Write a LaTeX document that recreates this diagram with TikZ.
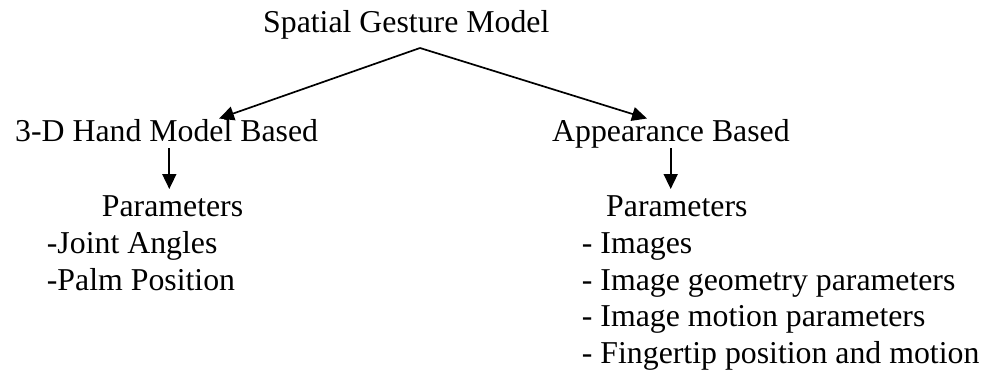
\documentclass[tikz,border=0pt]{standalone}
\usepackage{fontspec}
\setmainfont{Liberation Serif}
\usetikzlibrary{arrows.meta}
\begin{document}
\begin{tikzpicture}[x=1pt,y=-1pt,
  lbl/.style={anchor=base west,inner sep=0pt,font=\fontsize{31.8}{38}\selectfont},
  arr/.style={line width=1.7pt,-{Triangle[length=15pt,width=14pt]}}]
\useasboundingbox (0,0) rectangle (988,372);
% top level
\node[lbl] (sgm) at (263,32) {Spatial Gesture Model};
% two model families
\node[lbl] (hand) at (15,141.7) {3-D Hand Model Based};
\node[lbl] (app) at (552,141.7) {Appearance Based};
% parameters of the 3-D hand model
\node[lbl] (hpar) at (101.7,216) {Parameters};
\node[lbl] (h1) at (46.7,253.5) {-Joint Angles};
\node[lbl] (h2) at (46.7,290) {-Palm Position};
% parameters of the appearance model
\node[lbl] (apar) at (606,216) {Parameters};
\node[lbl] (a1) at (581.7,253.3) {- Images};
\node[lbl] (a2) at (581.7,290) {- Image geometry parameters};
\node[lbl] (a3) at (581.7,326.7) {- Image motion parameters};
\node[lbl] (a4) at (581.7,363.3) {- Fingertip position and motion};
% connector end points
\coordinate (apex) at (420,48);
\coordinate (handtip) at (219,118.5);
\coordinate (apptip) at (647,118.5);
\coordinate (hdown) at (169.3,148);
\coordinate (hdowntip) at (169.3,189);
\coordinate (adown) at (670.7,148);
\coordinate (adowntip) at (670.7,189);
\draw[arr] (apex) -- (handtip);
\draw[arr] (apex) -- (apptip);
\draw[arr] (hdown) -- (hdowntip);
\draw[arr] (adown) -- (adowntip);
\end{tikzpicture}
\end{document}
